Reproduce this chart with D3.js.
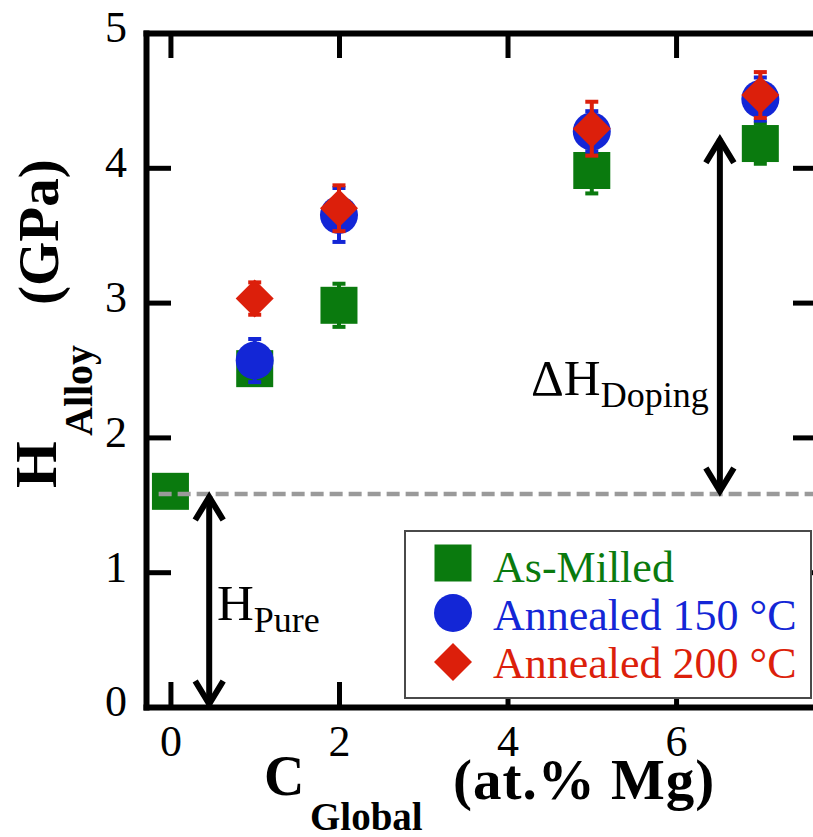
<!DOCTYPE html>
<html>
<head>
<meta charset="utf-8">
<script src="https://cdn.jsdelivr.net/npm/d3@7"></script>
<style>
  html, body { margin: 0; padding: 0; background: #fff; }
  svg { display: block; }
  text { font-family: "Liberation Serif", "Times New Roman", serif; }
</style>
</head>
<body>
<div id="chart"></div>
<script>
// ---- data ----
const seriesNames = ["As-Milled", "Annealed 150 °C", "Annealed 200 °C"];
const seriesColors = ["#0a7a0e", "#1326d6", "#dc1f0b"];
const seriesShapes = ["square", "circle", "diamond"];
const concentrations = [0, 1, 2, 5, 7];
const asMilledX = [0, 1, 2, 5, 7];
const asMilledH = [1.60, 2.51, 2.98, 3.98, 4.18];
const asMilledErr = [0.03, 0.10, 0.16, 0.17, 0.15];
const annealed150X = [1, 2, 5, 7];
const annealed150H = [2.57, 3.65, 4.27, 4.51];
const annealed150Err = [0.16, 0.20, 0.15, 0.16];
const annealed200X = [1, 2, 5, 7];
const annealed200H = [3.03, 3.70, 4.29, 4.54];
const annealed200Err = [0.12, 0.17, 0.20, 0.17];
const xTicks = [0, 2, 4, 6];
const yTicks = [0, 1, 2, 3, 4, 5];
const hPure = 1.58;
const hDopingTop = 4.23;
const hPureArrowX = 0.46;
const hDopingArrowX = 6.52;

// ---- layout ----
const W = 813, H = 837;
const svg = d3.select("#chart").append("svg").attr("width", W).attr("height", H);

const x = d3.scaleLinear().domain([-0.29, 7.72]).range([146, 821]);
const y = d3.scaleLinear().domain([0, 5]).range([707, 33]);

const tickLen = 25;
const axisW = 6, tickW = 5;

function styleAxis(g) {
  g.select(".domain").attr("stroke", "#000").attr("stroke-width", axisW).attr("stroke-linecap", "square");
  g.selectAll(".tick line").attr("stroke", "#000").attr("stroke-width", tickW);
  g.selectAll(".tick text").attr("fill", "#000").style("font-family", "'Liberation Serif', serif").style("font-size", "44px");
}

// bottom axis
svg.append("g").attr("transform", `translate(0,${y(0)})`)
  .call(d3.axisBottom(x).tickValues(xTicks).tickSizeInner(-tickLen).tickSizeOuter(0).tickPadding(18).tickFormat(d3.format("d")))
  .call(styleAxis);
// top axis
svg.append("g").attr("transform", `translate(0,${y(5)})`)
  .call(d3.axisTop(x).tickValues(xTicks).tickSizeInner(-tickLen).tickSizeOuter(0).tickFormat(""))
  .call(styleAxis);
// left axis
const gl = svg.append("g").attr("transform", `translate(${x(-0.29)},0)`)
  .call(d3.axisLeft(y).tickValues(yTicks).tickSizeInner(-tickLen).tickSizeOuter(0).tickPadding(19).tickFormat(d3.format("d")))
  .call(styleAxis);
gl.selectAll(".tick text").attr("dy", "0.2em");
gl.selectAll(".tick line").filter(d => d === 0 || d === 5).remove();
// right axis
const gr = svg.append("g").attr("transform", `translate(${x(7.72)},0)`)
  .call(d3.axisRight(y).tickValues([1, 2, 3, 4]).tickSizeInner(-tickLen - 3).tickSizeOuter(0).tickFormat(""))
  .call(styleAxis);

// ---- data points ----
const sets = [
  { xs: asMilledX, ys: asMilledH, es: asMilledErr },
  { xs: annealed150X, ys: annealed150H, es: annealed150Err },
  { xs: annealed200X, ys: annealed200H, es: annealed200Err }
];

function drawMarker(g, shape, cx, cy, color) {
  if (shape === "square") {
    g.append("rect").attr("x", cx - 18.5).attr("y", cy - 18.5).attr("width", 37).attr("height", 37).attr("fill", color);
  } else if (shape === "circle") {
    g.append("circle").attr("cx", cx).attr("cy", cy).attr("r", 19).attr("fill", color);
  } else {
    const r = 19;
    g.append("path").attr("d", `M${cx},${cy - r}L${cx + r},${cy}L${cx},${cy + r}L${cx - r},${cy}Z`).attr("fill", color);
  }
}

sets.forEach((s, si) => {
  const g = svg.append("g");
  const color = seriesColors[si];
  s.xs.forEach((xv, i) => {
    const cx = x(xv), y1 = y(s.ys[i] + s.es[i]), y0 = y(s.ys[i] - s.es[i]);
    g.append("line").attr("x1", cx).attr("x2", cx).attr("y1", y1).attr("y2", y0).attr("stroke", color).attr("stroke-width", 4);
    g.append("line").attr("x1", cx - 6.5).attr("x2", cx + 6.5).attr("y1", y1).attr("y2", y1).attr("stroke", color).attr("stroke-width", 4);
    g.append("line").attr("x1", cx - 6.5).attr("x2", cx + 6.5).attr("y1", y0).attr("y2", y0).attr("stroke", color).attr("stroke-width", 4);
    drawMarker(g, seriesShapes[si], cx, y(s.ys[i]), color);
  });
});

// ---- dashed reference line ----
svg.append("line")
  .attr("x1", x(-0.14)).attr("x2", W)
  .attr("y1", y(hPure)).attr("y2", y(hPure))
  .attr("stroke", "#9a9a9a").attr("stroke-width", 4.5).attr("stroke-dasharray", "13,6");

// ---- arrows ----
function arrow(xv, yA, yB) {
  const cx = x(xv), ya = y(yA), yb = y(yB);
  const g = svg.append("g").attr("fill", "none").attr("stroke", "#000").attr("stroke-width", 6).attr("stroke-linejoin", "miter");
  g.append("line").attr("x1", cx).attr("x2", cx).attr("y1", ya + 2).attr("y2", yb - 2);
  g.append("path").attr("d", `M${cx - 14},${ya + 26}L${cx},${ya + 3}L${cx + 14},${ya + 26}`);
  g.append("path").attr("d", `M${cx - 14},${yb - 26}L${cx},${yb - 3}L${cx + 14},${yb - 26}`);
}
arrow(hPureArrowX, hPure, 0);
arrow(hDopingArrowX, hDopingTop, hPure);

// ---- annotations ----
const hp = svg.append("text").attr("x", 217).attr("y", 620).attr("fill", "#000").style("font-size", "51px");
hp.append("tspan").text("H");
hp.append("tspan").attr("dy", 12).style("font-size", "36px").text("Pure");

const hd = svg.append("text").attr("x", 531).attr("y", 395).attr("fill", "#000").style("font-size", "51px");
hd.append("tspan").text("ΔH");
hd.append("tspan").attr("dy", 12).style("font-size", "36px").text("Doping");

// ---- legend ----
const lg = svg.append("g");
lg.append("rect").attr("x", 405).attr("y", 531).attr("width", 406).attr("height", 167)
  .attr("fill", "#fff").attr("stroke", "#4a4a4a").attr("stroke-width", 2);
const legendY = [563, 613, 662];
const legendTextY = [582, 630, 678];
seriesNames.forEach((name, i) => {
  drawMarker(lg, seriesShapes[i], 453, legendY[i], seriesColors[i]);
  lg.append("text").attr("x", 493).attr("y", legendTextY[i]).attr("fill", seriesColors[i])
    .style("font-size", "44px").text(name);
});

// ---- axis titles ----
const xt = svg.append("g").attr("fill", "#000").style("font-weight", "bold");
xt.append("text").attr("x", 264).attr("y", 795).style("font-size", "56px").text("C");
xt.append("text").attr("x", 310).attr("y", 830).style("font-size", "39px").text("Global");
xt.append("text").attr("x", 453).attr("y", 799).style("font-size", "57px").style("letter-spacing", "1px").text("(at.% Mg)");

const yt = svg.append("g").attr("fill", "#000").style("font-weight", "bold");
yt.append("text").attr("transform", "translate(56,488) rotate(-90)").style("font-size", "60px").text("H");
yt.append("text").attr("transform", "translate(92,436) rotate(-90)").style("font-size", "40px").text("Alloy");
yt.append("text").attr("transform", "translate(58,305) rotate(-90)").style("font-size", "57px").text("(GPa)");
</script>
</body>
</html>
